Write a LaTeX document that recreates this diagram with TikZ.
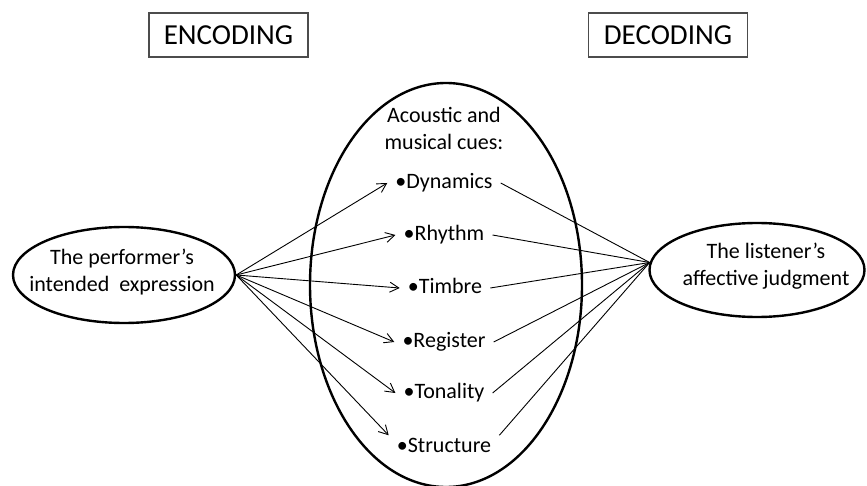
\documentclass[tikz,border=0pt]{standalone}
\usepackage{fontspec}
\setmainfont{Carlito}
\usetikzlibrary{shapes.geometric,arrows.meta}

\begin{document}
\begin{tikzpicture}[x=1pt, y=-1pt,
  headbox/.style={draw=black!70, line width=1.1pt, minimum width=159pt, minimum height=44pt, inner sep=0pt, font=\fontsize{29}{34}\selectfont},
  oval/.style={draw, ellipse, line width=2.4pt, inner sep=0pt},
  ovaltext/.style={align=center, inner sep=0pt, font=\fontsize{22}{27}\selectfont},
  cue/.style={inner xsep=8pt, inner ysep=2pt, text height=15pt, text depth=4pt, font=\fontsize{22}{27}\selectfont},
  encarrow/.style={line width=0.9pt, -{Straight Barb[length=9pt,width=10pt]}},
  decline/.style={line width=0.9pt}]
% Page size as in the reference (1pt = 1px)
\useasboundingbox (0,0) rectangle (867,486);

% Headings
\node[headbox] (encoding) at (228.5,35) {ENCODING};
\node[headbox] (decoding) at (668,35) {DECODING};

% The three ovals
\node[oval, minimum width=222pt, minimum height=96pt] (performer) at (124,275) {};
\node[ovaltext] (performertext) at (122,272) {The performer’s\\intended~ expression};
\node[oval, minimum width=272pt, minimum height=404pt] (cues) at (446,285) {};
\node[oval, minimum width=215pt, minimum height=94pt] (listener) at (757,270) {};
\node[ovaltext] (listenertext) at (766,266) {The listener’s\\affective judgment};

% Cues inside the middle oval
\node[ovaltext] (cuestitle) at (444,128) {Acoustic and\\musical cues:};
\node[cue] (dynamics) at (444,183) {•Dynamics};
\node[cue] (rhythm) at (444,235) {•Rhythm};
\node[cue] (timbre) at (445,288) {•Timbre};
\node[cue] (register) at (444,342) {•Register};
\node[cue] (tonality) at (444,393) {•Tonality};
\node[cue] (structure) at (444,447) {•Structure};

% Encoding arrows
\draw[encarrow] (performer.east) -- (dynamics.west);
\draw[encarrow] (performer.east) -- (rhythm.west);
\draw[encarrow] (performer.east) -- (timbre.west);
\draw[encarrow] (performer.east) -- (register.west);
\draw[encarrow] (performer.east) -- (tonality.west);
\draw[encarrow] (performer.east) -- (structure.north west);

% Decoding lines
\draw[decline] (dynamics.east) -- (listener.176);
\draw[decline] (rhythm.east) -- (listener.176);
\draw[decline] (timbre.east) -- (listener.176);
\draw[decline] (register.east) -- (listener.176);
\draw[decline] (tonality.east) -- (listener.176);
\draw[decline] (structure.north east) -- (listener.176);
\end{tikzpicture}
\end{document}
